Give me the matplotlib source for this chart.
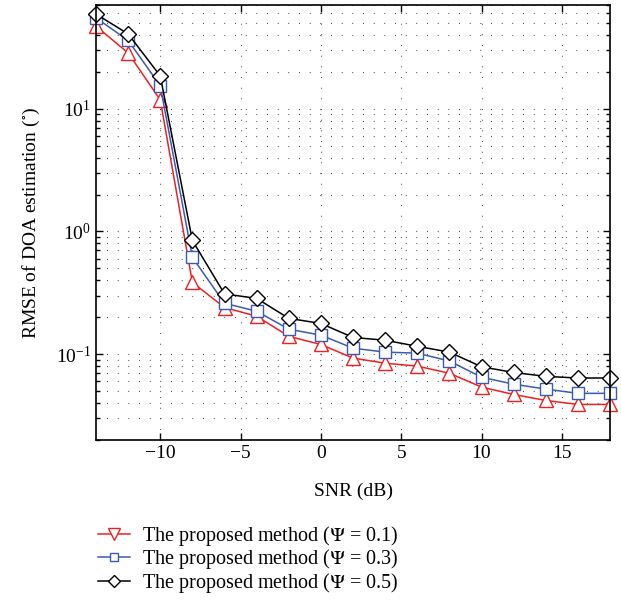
import matplotlib
matplotlib.use("Agg")
import matplotlib.pyplot as plt
from matplotlib.lines import Line2D
from matplotlib.ticker import LogLocator, NullFormatter

plt.rcParams['font.family'] = ['Liberation Serif', 'DejaVu Serif']
plt.rcParams['mathtext.fontset'] = 'stix'

# --------------------------------------------------------
# Data
# --------------------------------------------------------
snr = [-14, -12, -10, -8, -6, -4, -2, 0, 2, 4, 6, 8, 10, 12, 14, 16, 18]
rmse_01 = [47, 28.5, 11.8, 0.385, 0.24, 0.204, 0.14, 0.12, 0.093, 0.0845,
           0.08, 0.07, 0.054, 0.047, 0.042, 0.039, 0.039]
rmse_03 = [55, 36, 15.4, 0.615, 0.26, 0.224, 0.16, 0.143, 0.112, 0.104,
           0.102, 0.088, 0.065, 0.057, 0.052, 0.048, 0.048]
rmse_05 = [59, 40.7, 18.5, 0.845, 0.31, 0.285, 0.196, 0.178, 0.137, 0.13,
           0.116, 0.104, 0.079, 0.071, 0.066, 0.064, 0.064]
labels = [r'The proposed method ($\Psi$ = 0.1)',
          r'The proposed method ($\Psi$ = 0.3)',
          r'The proposed method ($\Psi$ = 0.5)']

red = '#f02020'
blue = '#3a5bb5'
black = 'black'

fig = plt.figure(figsize=(6.21, 6.03), dpi=100)
ax = fig.add_axes([0.1546, 0.2703, 0.8277, 0.7214])

ax.semilogy(snr, rmse_01, '-^', color=red, lw=1.1, ms=10,
            markerfacecolor='white', markeredgewidth=1.0, clip_on=False)
ax.semilogy(snr, rmse_03, '-s', color=blue, lw=1.1, ms=8,
            markerfacecolor='white', markeredgewidth=1.0, clip_on=False)
ax.semilogy(snr, rmse_05, '-D', color=black, lw=1.1, ms=8,
            markerfacecolor='white', markeredgewidth=1.0, clip_on=False)

ax.set_xlim(-14, 18)
ax.set_ylim(0.02, 70)
ax.set_xticks([-10, -5, 0, 5, 10, 15])
ax.set_xticklabels(['\u221210', '\u22125', '0', '5', '10', '15'])
ax.yaxis.set_major_locator(LogLocator(base=10, numticks=10))
ax.yaxis.set_minor_locator(LogLocator(base=10, subs=range(2, 10), numticks=10))
ax.yaxis.set_minor_formatter(NullFormatter())

ax.tick_params(which='both', direction='in', top=True, right=True,
               labelsize=14, width=1.0)
ax.tick_params(which='major', length=5)
ax.tick_params(which='minor', length=3)

ax.grid(True, which='major', axis='x', color='black', lw=0.8,
        ls=(0, (0.6, 9)))
ax.grid(True, which='both', axis='y', color='black', lw=0.8,
        ls=(0, (0.6, 9)))

for sp in ax.spines.values():
    sp.set_linewidth(1.2)

ax.set_xlabel('SNR (dB)', fontsize=14, labelpad=15)
ax.set_ylabel(r'RMSE of DOA estimation ($^{\circ}$)', fontsize=14, labelpad=10)

handles = [
    Line2D([], [], color=red, marker='v', ms=9, lw=1.1,
           markerfacecolor='white'),
    Line2D([], [], color=blue, marker='s', ms=6, lw=1.1,
           markerfacecolor='white'),
    Line2D([], [], color=black, marker='D', ms=6, lw=1.1,
           markerfacecolor='white'),
]
fig.legend(handles, labels, loc='lower left', bbox_to_anchor=(0.145, 0.0),
           frameon=False, fontsize=14.5, handlelength=1.6,
           handletextpad=0.6, labelspacing=-0.02, borderaxespad=0.0)

fig.savefig('out.png', dpi=100)
